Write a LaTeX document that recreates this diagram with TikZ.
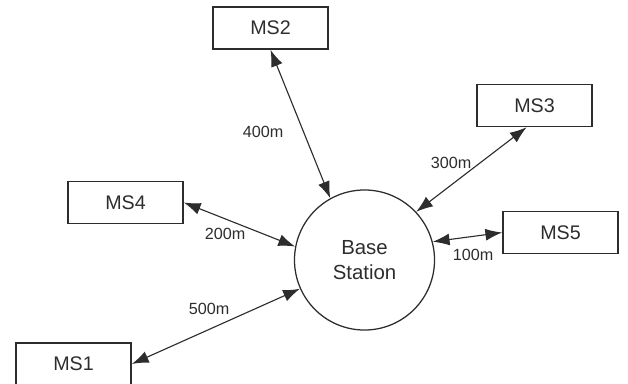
\documentclass[tikz,border=0pt]{standalone}
\usepackage{fontspec}
\setmainfont{Liberation Sans}
\usetikzlibrary{arrows.meta}
\definecolor{InkGray}{RGB}{45,45,45}
\tikzset{
  station/.style={circle,draw=InkGray,line width=0.9pt,minimum size=3.5cm,
    inner sep=0pt,align=center,text=InkGray,font=\fontsize{14.5}{18}\selectfont},
  mobile/.style={draw=InkGray,line width=1.1pt,minimum width=2.875cm,
    minimum height=1.05cm,inner sep=0pt,text=InkGray,font=\fontsize{14}{16}\selectfont},
  link/.style={{Latex[length=0.42cm,width=0.3cm]}-{Latex[length=0.42cm,width=0.3cm]},
    line width=0.8pt,InkGray},
  dist/.style={inner sep=0pt,text=InkGray,font=\fontsize{11.5}{13}\selectfont}
}
\begin{document}
\begin{tikzpicture}[x=0.025cm,y=-0.025cm]
  \useasboundingbox (0,0) rectangle (628,383);
  % base station and mobiles
  \node[station] (bs) at (364.5,260) {Base\\Station};
  \node[mobile] (ms2) at (270.5,28) {MS2};
  \node[mobile] (ms3) at (534.5,105.5) {MS3};
  \node[mobile] (ms5) at (560.5,232.5) {MS5};
  \node[mobile] (ms4) at (125.5,202.5) {MS4};
  \node[mobile] (ms1) at (73.5,364) {MS1};
  % links
  \draw[link] (ms2.south) -- (bs.119);
  \draw[link] (ms3.-110) -- (bs.43);
  \draw[link] (ms5.west) -- (bs.15);
  \draw[link] (ms4.east) -- (bs.169);
  \draw[link] (ms1.east) -- (bs.204);
  % distances
  \node[dist] (d400) at (263,132) {400m};
  \node[dist] (d300) at (451,163) {300m};
  \node[dist] (d100) at (473,255) {100m};
  \node[dist] (d200) at (225,234) {200m};
  \node[dist] (d500) at (209,309) {500m};
\end{tikzpicture}
\end{document}
